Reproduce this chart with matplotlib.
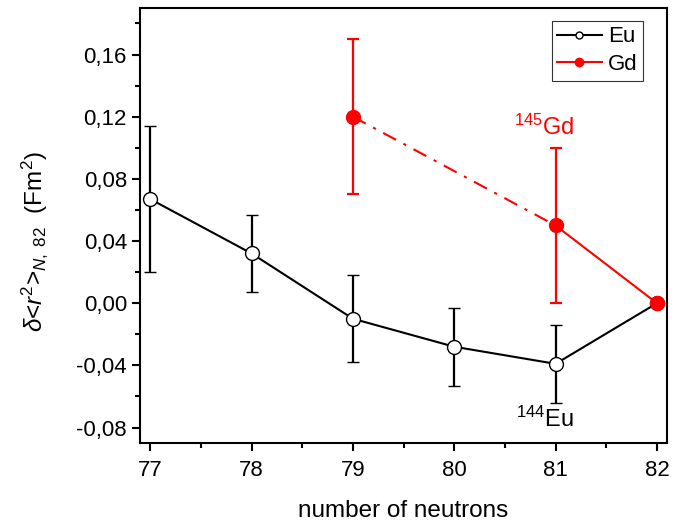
import numpy as np
import matplotlib
matplotlib.use("Agg")
import matplotlib.pyplot as plt
from matplotlib.ticker import FuncFormatter, MultipleLocator

plt.rcParams['font.family'] = ['Liberation Sans', 'DejaVu Sans']
plt.rcParams['mathtext.fontset'] = 'custom'
plt.rcParams['mathtext.rm'] = 'Liberation Sans'
plt.rcParams['mathtext.it'] = 'Liberation Sans:italic'

# Eu isotope chain
eu_n = [77, 78, 79, 80, 81, 82]
eu_dr2 = [0.067, 0.032, -0.010, -0.028, -0.039, 0.000]
eu_err = [0.047, 0.025, 0.028, 0.025, 0.025, 0.0]

# Gd isotope chain
gd_n = [79, 81, 82]
gd_dr2 = [0.120, 0.050, 0.000]
gd_err = [0.050, 0.050, 0.0]

fig = plt.figure(figsize=(6.8, 5.25), dpi=100)
ax = fig.add_axes([0.206, 0.156, 0.775, 0.829])

# Eu: open circles, solid line
ax.errorbar(eu_n, eu_dr2, yerr=eu_err, color='black', lw=1.5, elinewidth=1.6,
            capsize=4.5, capthick=1.6, marker='o', ms=10, mfc='white',
            mec='black', mew=1.0, zorder=3)

# Gd: dash-dot between 79 and 81, solid from 81 to 82
ax.plot(gd_n[:2], gd_dr2[:2], color='red', lw=1.5, ls=(0, (7, 4, 1.5, 4)), zorder=2)
ax.plot(gd_n[1:], gd_dr2[1:], color='red', lw=1.5, zorder=2)
ax.errorbar(gd_n, gd_dr2, yerr=gd_err, color='red', ls='none', elinewidth=1.6,
            capsize=4.5, capthick=1.6, marker='o', ms=10, mfc='red', mec='red',
            zorder=4)

ax.text(80.89, 0.108, r'$^{145}$Gd', color='red', fontsize=17, ha='center', va='baseline')
ax.text(80.89, -0.0795, r'$^{144}$Eu', color='black', fontsize=17, ha='center', va='baseline')

# legend proxies
h_eu, = ax.plot([], [], color='black', lw=1.5, marker='o', ms=5, mfc='white', mec='black')
h_gd, = ax.plot([], [], color='red', lw=1.5, marker='o', ms=6, mfc='red', mec='red')
leg = ax.legend([h_eu, h_gd], ['Eu', 'Gd'], loc='upper right', fontsize=16,
                frameon=True, fancybox=False, edgecolor='black', handlelength=2.0,
                handletextpad=0.3, borderpad=0.25, labelspacing=0.3,
                borderaxespad=0.0, bbox_to_anchor=(0.955, 0.97))
leg.get_frame().set_linewidth(0.8)

ax.set_xlim(76.9, 82.1)
ax.set_ylim(-0.09, 0.19)
ax.xaxis.set_major_locator(MultipleLocator(1))
ax.xaxis.set_minor_locator(MultipleLocator(0.5))
ax.yaxis.set_major_locator(MultipleLocator(0.04))
ax.yaxis.set_minor_locator(MultipleLocator(0.02))
ax.yaxis.set_major_formatter(FuncFormatter(lambda v, p: ('%.2f' % v).replace('.', ',').replace('-0,00', '0,00')))
ax.xaxis.set_major_formatter(FuncFormatter(lambda v, p: '%d' % round(v)))

ax.tick_params(which='major', direction='out', length=6, width=1.5, labelsize=16)
ax.tick_params(axis='x', which='major', pad=6)
ax.tick_params(which='minor', direction='out', length=3.5, width=1.5)
for s in ax.spines.values():
    s.set_linewidth(1.5)

ax.set_xlabel('number of neutrons', fontsize=17.5, labelpad=14)
ax.set_ylabel(r'$\delta$<$r^2$>$_{N,\ 82}$  (Fm$^2$)', fontsize=17.5)
ax.yaxis.set_label_coords(-0.17, 0.464)

fig.savefig('out.png', dpi=100)
